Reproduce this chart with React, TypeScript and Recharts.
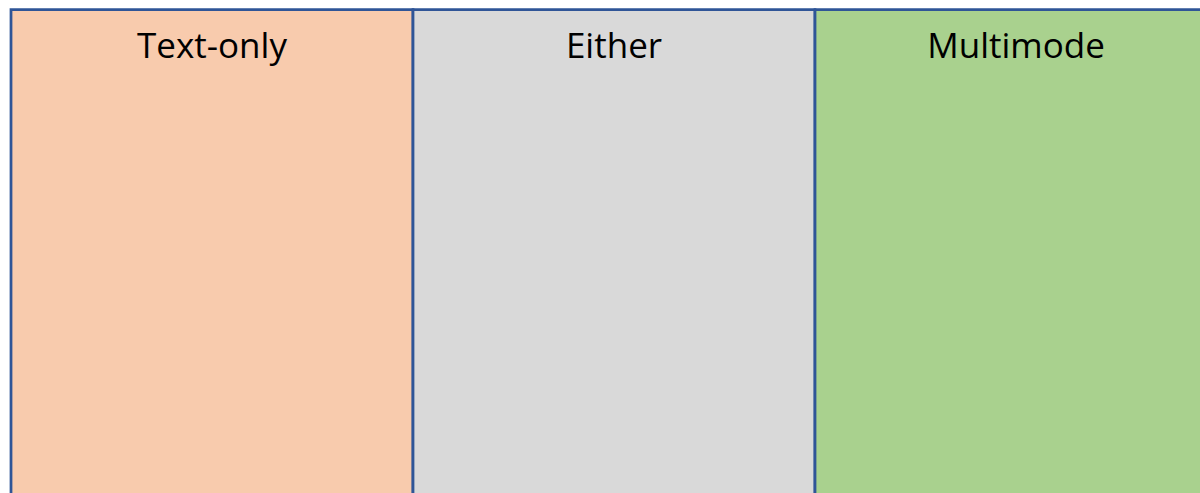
import React from 'react';
import { BarChart, Bar, XAxis, YAxis, Cell, LabelList } from 'recharts';

const categories = ['Text-only', 'Either', 'Multimode'];
const values = [1, 1, 1];
const fills = ['#F8CBAD', '#D9D9D9', '#A9D18E'];

const data = categories.map((name, i) => ({ name, value: values[i] }));

export default function App() {
  return (
    <div style={{ position: 'absolute', left: 0, top: 0, width: 1200, height: 493, overflow: 'hidden', background: '#fff' }}>
      <BarChart
        width={1224}
        height={530}
        data={data}
        margin={{ top: 9.5, left: 11, right: 7, bottom: 0 }}
        barCategoryGap={0}
        barGap={0}
      >
        <XAxis dataKey="name" hide />
        <YAxis hide domain={[0, 1]} />
        <Bar dataKey="value" isAnimationActive={false} stroke="#2F5597" strokeWidth={2.75}>
          {data.map((d, i) => (
            <Cell key={d.name} fill={fills[i]} />
          ))}
          <LabelList
            dataKey="name"
            position="insideTop"
            offset={24}
            style={{ fontFamily: '"Open Sans", sans-serif', fontSize: 35, fill: '#000' }}
          />
        </Bar>
      </BarChart>
    </div>
  );
}
